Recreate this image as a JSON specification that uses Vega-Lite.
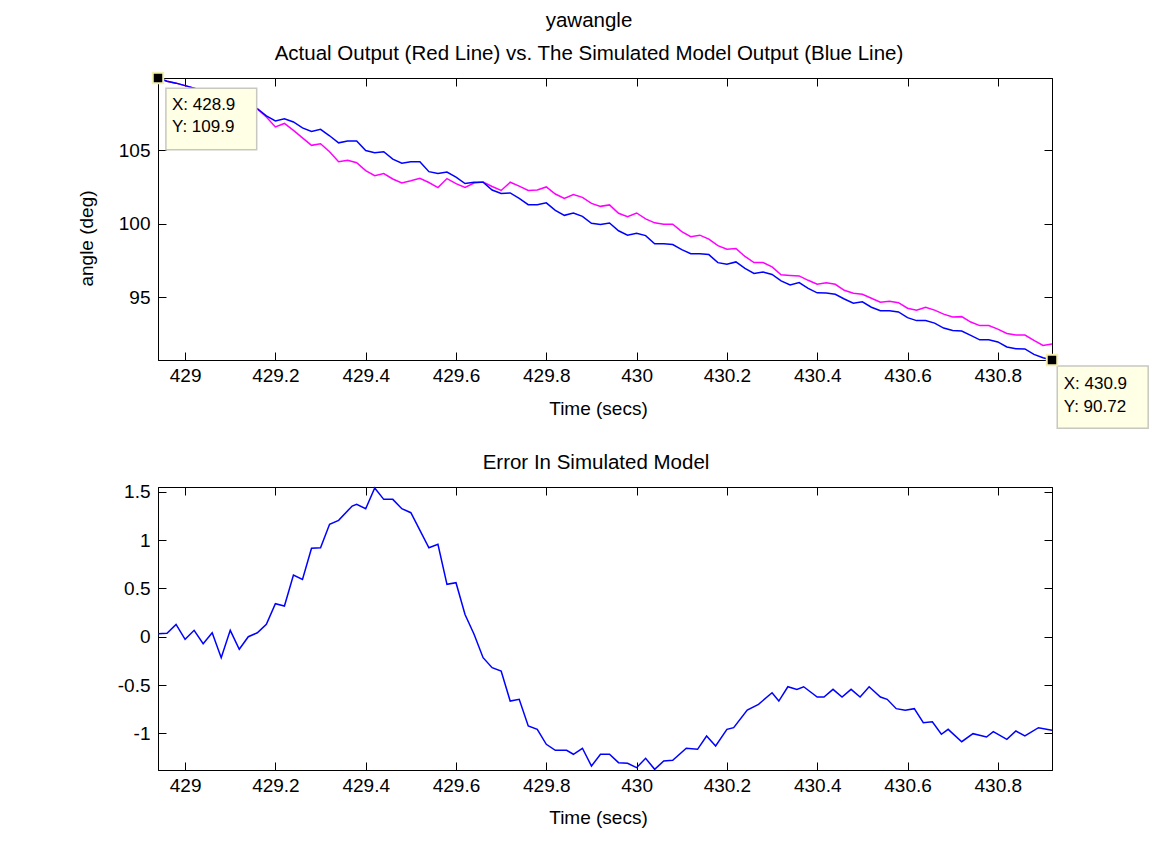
{
  "$schema": "https://vega.github.io/schema/vega-lite/v6.json",
  "background": "white",
  "padding": {"left": 76, "top": 10, "right": 0, "bottom": 0},
  "spacing": 127,
  "bounds": "flush",
  "config": {
    "view": {"stroke": "black", "strokeWidth": 1},
    "font": "Liberation Sans",
    "title": {"font": "Liberation Sans", "fontSize": 20.5, "fontWeight": "normal", "color": "black", "anchor": "middle", "offset": 4, "lineHeight": 33},
    "axis": {
      "grid": false, "domainColor": "black", "domainWidth": 1, "tickColor": "black", "tickWidth": 1, "tickSize": -8,
      "labelColor": "black", "labelFont": "Liberation Sans", "labelFontSize": 19, "labelFlush": false, "labelOverlap": false,
      "titleColor": "black", "titleFont": "Liberation Sans", "titleFontSize": 19, "titleFontWeight": "normal"
    },
    "axisX": {"labelPadding": 14},
    "axisY": {"labelPadding": 16}
  },
  "datasets": {
    "yaw": [
      {"t": 428.94, "actual": 109.9, "simulated": 109.9},
      {"t": 428.96, "actual": 109.68, "simulated": 109.68},
      {"t": 428.98, "actual": 109.55, "simulated": 109.55},
      {"t": 429.0, "actual": 109.38, "simulated": 109.38},
      {"t": 429.02, "actual": 109.21, "simulated": 109.21},
      {"t": 429.04, "actual": 109.01, "simulated": 109.01},
      {"t": 429.06, "actual": 108.8, "simulated": 108.8},
      {"t": 429.08, "actual": 108.6, "simulated": 108.6},
      {"t": 429.1, "actual": 108.4, "simulated": 108.4},
      {"t": 429.12, "actual": 108.2, "simulated": 108.2},
      {"t": 429.14, "actual": 107.99, "simulated": 107.99},
      {"t": 429.16, "actual": 107.8, "simulated": 107.82},
      {"t": 429.18, "actual": 107.25, "simulated": 107.32},
      {"t": 429.2, "actual": 106.57, "simulated": 106.98},
      {"t": 429.22, "actual": 106.81, "simulated": 107.12},
      {"t": 429.24, "actual": 106.34, "simulated": 106.91},
      {"t": 429.26, "actual": 105.83, "simulated": 106.51},
      {"t": 429.28, "actual": 105.32, "simulated": 106.27},
      {"t": 429.3, "actual": 105.43, "simulated": 106.41},
      {"t": 429.32, "actual": 104.89, "simulated": 105.97},
      {"t": 429.34, "actual": 104.21, "simulated": 105.49},
      {"t": 429.36, "actual": 104.31, "simulated": 105.61},
      {"t": 429.38, "actual": 104.14, "simulated": 105.61},
      {"t": 429.4, "actual": 103.6, "simulated": 104.97},
      {"t": 429.42, "actual": 103.26, "simulated": 104.82},
      {"t": 429.44, "actual": 103.4, "simulated": 104.89},
      {"t": 429.46, "actual": 103.03, "simulated": 104.38},
      {"t": 429.48, "actual": 102.76, "simulated": 104.11},
      {"t": 429.5, "actual": 102.91, "simulated": 104.21},
      {"t": 429.52, "actual": 103.08, "simulated": 104.21},
      {"t": 429.54, "actual": 102.79, "simulated": 103.53},
      {"t": 429.56, "actual": 102.45, "simulated": 103.4},
      {"t": 429.58, "actual": 103.06, "simulated": 103.5},
      {"t": 429.6, "actual": 102.72, "simulated": 103.16},
      {"t": 429.62, "actual": 102.45, "simulated": 102.72},
      {"t": 429.64, "actual": 102.76, "simulated": 102.81},
      {"t": 429.66, "actual": 102.82, "simulated": 102.81},
      {"t": 429.68, "actual": 102.52, "simulated": 102.28},
      {"t": 429.7, "actual": 102.25, "simulated": 102.05},
      {"t": 429.72, "actual": 102.81, "simulated": 102.08},
      {"t": 429.74, "actual": 102.55, "simulated": 101.71},
      {"t": 429.76, "actual": 102.25, "simulated": 101.28},
      {"t": 429.78, "actual": 102.28, "simulated": 101.28},
      {"t": 429.8, "actual": 102.49, "simulated": 101.41},
      {"t": 429.82, "actual": 102.01, "simulated": 100.9},
      {"t": 429.84, "actual": 101.71, "simulated": 100.56},
      {"t": 429.86, "actual": 101.98, "simulated": 100.72},
      {"t": 429.88, "actual": 101.78, "simulated": 100.49},
      {"t": 429.9, "actual": 101.37, "simulated": 100.02},
      {"t": 429.92, "actual": 101.17, "simulated": 99.93},
      {"t": 429.94, "actual": 101.27, "simulated": 100.04},
      {"t": 429.96, "actual": 100.7, "simulated": 99.51},
      {"t": 429.98, "actual": 100.46, "simulated": 99.21},
      {"t": 430.0, "actual": 100.72, "simulated": 99.34},
      {"t": 430.02, "actual": 100.32, "simulated": 99.18},
      {"t": 430.04, "actual": 100.05, "simulated": 98.62},
      {"t": 430.06, "actual": 99.95, "simulated": 98.62},
      {"t": 430.08, "actual": 99.95, "simulated": 98.57},
      {"t": 430.1, "actual": 99.45, "simulated": 98.23},
      {"t": 430.12, "actual": 99.11, "simulated": 97.95},
      {"t": 430.14, "actual": 99.21, "simulated": 97.95},
      {"t": 430.16, "actual": 98.94, "simulated": 97.89},
      {"t": 430.18, "actual": 98.5, "simulated": 97.34},
      {"t": 430.2, "actual": 98.26, "simulated": 97.23},
      {"t": 430.22, "actual": 98.3, "simulated": 97.39},
      {"t": 430.24, "actual": 97.76, "simulated": 96.95},
      {"t": 430.26, "actual": 97.35, "simulated": 96.61},
      {"t": 430.28, "actual": 97.35, "simulated": 96.71},
      {"t": 430.3, "actual": 97.05, "simulated": 96.54},
      {"t": 430.32, "actual": 96.51, "simulated": 96.1},
      {"t": 430.34, "actual": 96.47, "simulated": 95.83},
      {"t": 430.36, "actual": 96.44, "simulated": 95.99},
      {"t": 430.38, "actual": 96.14, "simulated": 95.59},
      {"t": 430.4, "actual": 95.87, "simulated": 95.29},
      {"t": 430.42, "actual": 95.97, "simulated": 95.27},
      {"t": 430.44, "actual": 95.87, "simulated": 95.19},
      {"t": 430.46, "actual": 95.46, "simulated": 94.87},
      {"t": 430.48, "actual": 95.26, "simulated": 94.58},
      {"t": 430.5, "actual": 95.19, "simulated": 94.68},
      {"t": 430.52, "actual": 94.92, "simulated": 94.31},
      {"t": 430.54, "actual": 94.65, "simulated": 94.07},
      {"t": 430.56, "actual": 94.72, "simulated": 94.07},
      {"t": 430.58, "actual": 94.62, "simulated": 93.99},
      {"t": 430.6, "actual": 94.24, "simulated": 93.6},
      {"t": 430.62, "actual": 94.11, "simulated": 93.4},
      {"t": 430.64, "actual": 94.31, "simulated": 93.4},
      {"t": 430.66, "actual": 94.11, "simulated": 93.23},
      {"t": 430.68, "actual": 93.84, "simulated": 92.89},
      {"t": 430.7, "actual": 93.64, "simulated": 92.72},
      {"t": 430.72, "actual": 93.67, "simulated": 92.69},
      {"t": 430.74, "actual": 93.3, "simulated": 92.39},
      {"t": 430.76, "actual": 93.06, "simulated": 92.09},
      {"t": 430.78, "actual": 93.06, "simulated": 92.09},
      {"t": 430.8, "actual": 92.82, "simulated": 91.95},
      {"t": 430.82, "actual": 92.52, "simulated": 91.61},
      {"t": 430.84, "actual": 92.42, "simulated": 91.49},
      {"t": 430.86, "actual": 92.42, "simulated": 91.47},
      {"t": 430.88, "actual": 92.05, "simulated": 91.1},
      {"t": 430.9, "actual": 91.71, "simulated": 90.87},
      {"t": 430.92, "actual": 91.81, "simulated": 90.72}
    ],
    "err": [
      {"t": 428.94, "e": 0.03}, {"t": 428.96, "e": 0.035}, {"t": 428.98, "e": 0.128}, {"t": 429.0, "e": -0.027},
      {"t": 429.02, "e": 0.066}, {"t": 429.04, "e": -0.072}, {"t": 429.06, "e": 0.041}, {"t": 429.08, "e": -0.217},
      {"t": 429.1, "e": 0.066}, {"t": 429.12, "e": -0.13}, {"t": 429.14, "e": 0.0}, {"t": 429.16, "e": 0.041},
      {"t": 429.18, "e": 0.128}, {"t": 429.2, "e": 0.342}, {"t": 429.22, "e": 0.318}, {"t": 429.24, "e": 0.639},
      {"t": 429.26, "e": 0.594}, {"t": 429.28, "e": 0.915}, {"t": 429.3, "e": 0.921}, {"t": 429.32, "e": 1.164},
      {"t": 429.34, "e": 1.205}, {"t": 429.37, "e": 1.353}, {"t": 429.38, "e": 1.371}, {"t": 429.4, "e": 1.325},
      {"t": 429.42, "e": 1.54}, {"t": 429.44, "e": 1.422}, {"t": 429.46, "e": 1.422}, {"t": 429.48, "e": 1.325},
      {"t": 429.5, "e": 1.284}, {"t": 429.54, "e": 0.921}, {"t": 429.56, "e": 0.957}, {"t": 429.58, "e": 0.542},
      {"t": 429.6, "e": 0.559}, {"t": 429.62, "e": 0.23}, {"t": 429.64, "e": 0.025}, {"t": 429.66, "e": -0.217},
      {"t": 429.68, "e": -0.321}, {"t": 429.7, "e": -0.355}, {"t": 429.72, "e": -0.666}, {"t": 429.74, "e": -0.648},
      {"t": 429.76, "e": -0.924}, {"t": 429.78, "e": -0.959}, {"t": 429.8, "e": -1.114}, {"t": 429.82, "e": -1.176},
      {"t": 429.845, "e": -1.176}, {"t": 429.86, "e": -1.217}, {"t": 429.88, "e": -1.155}, {"t": 429.9, "e": -1.339},
      {"t": 429.92, "e": -1.217}, {"t": 429.94, "e": -1.217}, {"t": 429.96, "e": -1.304}, {"t": 429.98, "e": -1.311},
      {"t": 430.0, "e": -1.356}, {"t": 430.02, "e": -1.259}, {"t": 430.04, "e": -1.373}, {"t": 430.06, "e": -1.287},
      {"t": 430.08, "e": -1.28}, {"t": 430.11, "e": -1.155}, {"t": 430.135, "e": -1.166}, {"t": 430.155, "e": -1.028},
      {"t": 430.175, "e": -1.131}, {"t": 430.2, "e": -0.959}, {"t": 430.215, "e": -0.942}, {"t": 430.245, "e": -0.76},
      {"t": 430.27, "e": -0.7}, {"t": 430.3, "e": -0.58}, {"t": 430.315, "e": -0.666}, {"t": 430.335, "e": -0.518},
      {"t": 430.355, "e": -0.545}, {"t": 430.37, "e": -0.518}, {"t": 430.4, "e": -0.624}, {"t": 430.415, "e": -0.624},
      {"t": 430.435, "e": -0.545}, {"t": 430.455, "e": -0.624}, {"t": 430.475, "e": -0.545}, {"t": 430.495, "e": -0.624},
      {"t": 430.515, "e": -0.518}, {"t": 430.54, "e": -0.624}, {"t": 430.555, "e": -0.648}, {"t": 430.575, "e": -0.745},
      {"t": 430.595, "e": -0.762}, {"t": 430.615, "e": -0.745}, {"t": 430.635, "e": -0.89}, {"t": 430.655, "e": -0.88},
      {"t": 430.675, "e": -1.01}, {"t": 430.69, "e": -0.959}, {"t": 430.72, "e": -1.087}, {"t": 430.745, "e": -1.004},
      {"t": 430.775, "e": -1.038}, {"t": 430.79, "e": -0.983}, {"t": 430.82, "e": -1.062}, {"t": 430.84, "e": -0.976},
      {"t": 430.86, "e": -1.028}, {"t": 430.89, "e": -0.942}, {"t": 430.92, "e": -0.969}
    ],
    "cursor": [
      {"t": 428.94, "v": 109.9},
      {"t": 430.92, "v": 90.72}
    ],
    "box": [
      {"t1": 428.9575, "t2": 429.1586, "v1": 109.21, "v2": 105.02},
      {"t1": 430.9316, "t2": 431.133, "v1": 90.31, "v2": 86.08}
    ],
    "boxText": [
      {"t": 428.971, "v": 108.06, "label": "X: 428.9"},
      {"t": 428.971, "v": 106.57, "label": "Y: 109.9"},
      {"t": 430.946, "v": 89.12, "label": "X: 430.9"},
      {"t": 430.946, "v": 87.54, "label": "Y: 90.72"}
    ]
  },
  "vconcat": [
    {
      "width": 894,
      "height": 282,
      "title": {"text": ["yawangle", "Actual Output (Red Line) vs. The Simulated Model Output (Blue Line)"], "dx": -16},
      "resolve": {"axis": {"x": "independent", "y": "independent"}},
      "layer": [
        {
          "data": {"name": "yaw"},
          "mark": {"type": "line", "color": "#ff00ff", "strokeWidth": 1.5},
          "encoding": {
            "x": {"field": "t", "type": "quantitative", "scale": {"domain": [428.94, 430.92], "nice": false, "zero": false},
              "axis": {"orient": "bottom", "values": [429, 429.2, 429.4, 429.6, 429.8, 430, 430.2, 430.4, 430.6, 430.8], "format": "~g", "title": "Time (secs)", "titleX": 440, "titleY": 48, "titleBaseline": "middle"}},
            "y": {"field": "actual", "type": "quantitative", "scale": {"domain": [90.72, 109.9], "nice": false, "zero": false},
              "axis": {"orient": "left", "values": [95, 100, 105], "title": "angle (deg)", "titleX": -62, "titleY": 160, "titleBaseline": "bottom"}}
          }
        },
        {
          "data": {"name": "yaw"},
          "mark": {"type": "line", "color": "#0000ff", "strokeWidth": 1.5},
          "encoding": {
            "x": {"field": "t", "type": "quantitative", "scale": {"domain": [428.94, 430.92], "nice": false, "zero": false},
              "axis": {"orient": "top", "values": [429, 429.2, 429.4, 429.6, 429.8, 430, 430.2, 430.4, 430.6, 430.8], "labels": false, "title": null}},
            "y": {"field": "simulated", "type": "quantitative", "scale": {"domain": [90.72, 109.9], "nice": false, "zero": false},
              "axis": {"orient": "right", "values": [95, 100, 105], "labels": false, "title": null}}
          }
        },
        {
          "data": {"name": "box"},
          "mark": {"type": "rect", "fill": "#ffffe6", "stroke": "#c8c8c0", "strokeWidth": 1.5},
          "encoding": {
            "x": {"field": "t1", "type": "quantitative", "scale": {"domain": [428.94, 430.92], "nice": false, "zero": false}, "axis": null},
            "x2": {"field": "t2"},
            "y": {"field": "v1", "type": "quantitative", "scale": {"domain": [90.72, 109.9], "nice": false, "zero": false}, "axis": null},
            "y2": {"field": "v2"}
          }
        },
        {
          "data": {"name": "boxText"},
          "mark": {"type": "text", "align": "left", "baseline": "middle", "font": "Liberation Sans", "fontSize": 17, "color": "black"},
          "encoding": {
            "x": {"field": "t", "type": "quantitative", "scale": {"domain": [428.94, 430.92], "nice": false, "zero": false}, "axis": null},
            "y": {"field": "v", "type": "quantitative", "scale": {"domain": [90.72, 109.9], "nice": false, "zero": false}, "axis": null},
            "text": {"field": "label"}
          }
        },
        {
          "data": {"name": "cursor"},
          "mark": {"type": "point", "shape": "square", "filled": true, "color": "black", "size": 110, "stroke": "#f5f0b0", "strokeWidth": 2, "opacity": 1},
          "encoding": {
            "x": {"field": "t", "type": "quantitative", "scale": {"domain": [428.94, 430.92], "nice": false, "zero": false}, "axis": null},
            "y": {"field": "v", "type": "quantitative", "scale": {"domain": [90.72, 109.9], "nice": false, "zero": false}, "axis": null}
          }
        }
      ]
    },
    {
      "width": 894,
      "height": 283,
      "title": {"text": "Error In Simulated Model", "dx": -9, "offset": 9},
      "resolve": {"axis": {"x": "independent", "y": "independent"}},
      "layer": [
        {
          "data": {"name": "err"},
          "mark": {"type": "line", "color": "#0000ff", "strokeWidth": 1.5},
          "encoding": {
            "x": {"field": "t", "type": "quantitative", "scale": {"domain": [428.94, 430.92], "nice": false, "zero": false},
              "axis": {"orient": "bottom", "values": [429, 429.2, 429.4, 429.6, 429.8, 430, 430.2, 430.4, 430.6, 430.8], "format": "~g", "title": "Time (secs)", "titleX": 440, "titleY": 47, "titleBaseline": "middle"}},
            "y": {"field": "e", "type": "quantitative", "scale": {"domain": [-1.38, 1.55], "nice": false, "zero": false},
              "axis": {"orient": "left", "values": [-1, -0.5, 0, 0.5, 1, 1.5], "format": "~g", "labelExpr": "replace(datum.label, '\u2212', '-')", "title": null}}
          }
        },
        {
          "data": {"name": "err"},
          "mark": {"type": "line", "opacity": 0},
          "encoding": {
            "x": {"field": "t", "type": "quantitative", "scale": {"domain": [428.94, 430.92], "nice": false, "zero": false},
              "axis": {"orient": "top", "values": [429, 429.2, 429.4, 429.6, 429.8, 430, 430.2, 430.4, 430.6, 430.8], "labels": false, "title": null}},
            "y": {"field": "e", "type": "quantitative", "scale": {"domain": [-1.38, 1.55], "nice": false, "zero": false},
              "axis": {"orient": "right", "values": [-1, -0.5, 0, 0.5, 1, 1.5], "labels": false, "title": null}}
          }
        }
      ]
    }
  ]
}
